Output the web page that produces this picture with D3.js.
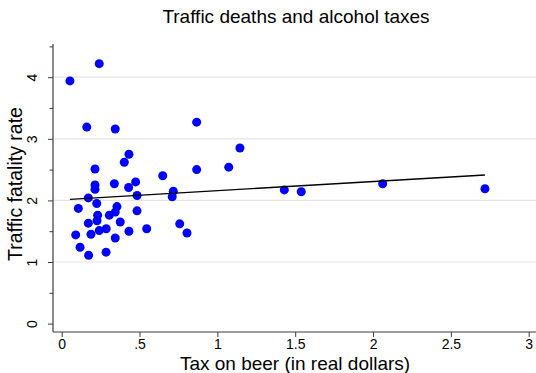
<!DOCTYPE html>
<html>
<head>
<meta charset="utf-8">
<script src="https://cdn.jsdelivr.net/npm/d3@7"></script>
<style>
  body { margin: 0; background: #fff; }
  svg { display: block; font-family: "Liberation Sans", Arial, sans-serif; }
</style>
</head>
<body>
<svg width="536" height="373"></svg>
<script>
// Data (beer tax, fatality rate per state)
const beerTax = [0.053, 0.241, 0.161, 0.344, 0.867, 1.145, 0.432, 0.402, 0.214, 0.867,
    1.073, 0.649, 0.338, 0.475, 0.214, 0.214, 0.430, 0.484, 0.717, 0.710,
    0.171, 0.225, 0.107, 0.355, 0.484, 0.231, 0.306, 0.344, 0.171, 0.227,
    0.376, 0.758, 0.090, 0.188, 0.241, 0.286, 0.432, 0.546, 0.805, 0.344,
    0.118, 0.173, 0.285, 1.430, 1.539, 2.062, 2.719];
const fatalityRate = [3.94, 4.22, 3.19, 3.16, 3.27, 2.85, 2.75, 2.62, 2.51, 2.50,
    2.54, 2.40, 2.27, 2.30, 2.25, 2.18, 2.21, 2.08, 2.15, 2.06,
    2.04, 1.95, 1.87, 1.90, 1.83, 1.76, 1.76, 1.81, 1.63, 1.67,
    1.65, 1.62, 1.44, 1.45, 1.51, 1.54, 1.50, 1.54, 1.47, 1.39,
    1.24, 1.11, 1.16, 2.17, 2.14, 2.27, 2.19];

// fitted line
const fitIntercept = 2.01;
const fitSlope = 0.148;

const xTicks = [0, 0.5, 1, 1.5, 2, 2.5, 3];
const xTickLabels = ["0", ".5", "1", "1.5", "2", "2.5", "3"];
const yTicks = [0, 1, 2, 3, 4];
const yMinorTicks = [0.5, 1.5, 2.5, 3.5, 4.5];
const yGrid = [1, 2, 3, 4];

const svg = d3.select("svg"),
    width = +svg.attr("width"),
    height = +svg.attr("height");

const plotLeft = 53, plotRight = 536, plotBottom = 332, plotTop = 44;

const x = d3.scaleLinear().domain([0, 3]).range([61.7, 528.7]);
const y = d3.scaleLinear().domain([0, 4]).range([323.6, 77.2]);

const axisColor = "#3c3c3c";

// title
svg.append("text")
    .attr("x", 296).attr("y", 23)
    .attr("text-anchor", "middle")
    .style("font-size", "19px")
    .attr("fill", "#000")
    .text("Traffic deaths and alcohol taxes");

// gridlines
svg.append("g")
    .selectAll("line")
    .data(yGrid)
    .join("line")
      .attr("x1", plotLeft + 1).attr("x2", plotRight)
      .attr("y1", d => y(d)).attr("y2", d => y(d))
      .attr("stroke", "#e6e6e6")
      .attr("stroke-width", 1.2);

// x axis
const gx = svg.append("g")
    .attr("transform", `translate(0,${plotBottom})`)
    .call(d3.axisBottom(x)
        .tickValues(xTicks)
        .tickFormat((d, i) => xTickLabels[i])
        .tickSize(5)
        .tickPadding(2));
gx.select(".domain").remove();
gx.selectAll(".tick line").attr("stroke", axisColor);
gx.selectAll(".tick text")
    .style("font-size", "14px")
    .attr("fill", "#000")
    .attr("font-family", null);

// y axis
const gy = svg.append("g")
    .attr("transform", `translate(${plotLeft},0)`)
    .call(d3.axisLeft(y)
        .tickValues(yTicks)
        .tickFormat(d3.format("d"))
        .tickSize(5));
gy.select(".domain").remove();
gy.selectAll(".tick line").attr("stroke", axisColor);
gy.selectAll(".tick text")
    .style("font-size", "14px")
    .attr("fill", "#000")
    .attr("font-family", null)
    .attr("x", null).attr("dy", null)
    .attr("text-anchor", "middle")
    .attr("transform", "translate(-16,0) rotate(-90)");

// minor ticks
svg.append("g")
    .attr("transform", `translate(${plotLeft},0)`)
    .call(d3.axisLeft(y).tickValues(yMinorTicks).tickSize(3.5).tickFormat(""))
    .call(g => g.select(".domain").remove())
    .call(g => g.selectAll(".tick line").attr("stroke", axisColor));

// axis lines
svg.append("line")
    .attr("x1", plotLeft).attr("x2", plotLeft)
    .attr("y1", plotTop).attr("y2", plotBottom)
    .attr("stroke", axisColor).attr("stroke-width", 1.2);
svg.append("line")
    .attr("x1", plotLeft).attr("x2", plotRight)
    .attr("y1", plotBottom).attr("y2", plotBottom)
    .attr("stroke", axisColor).attr("stroke-width", 1.2);

// axis titles
svg.append("text")
    .attr("x", 295).attr("y", 370)
    .attr("text-anchor", "middle")
    .style("font-size", "19px")
    .text("Tax on beer (in real dollars)");

svg.append("text")
    .attr("transform", "translate(22,184) rotate(-90)")
    .attr("text-anchor", "middle")
    .style("font-size", "19.5px")
    .text("Traffic fatality rate");

// points
const points = beerTax.map((d, i) => ({tax: d, rate: fatalityRate[i]}));

svg.append("g")
    .selectAll("circle")
    .data(points)
    .join("circle")
      .attr("cx", d => x(d.tax))
      .attr("cy", d => y(d.rate))
      .attr("r", 4.5)
      .attr("fill", "#0000ff");

// fitted values line
const xExtent = d3.extent(beerTax);
svg.append("path")
    .datum(xExtent)
    .attr("d", d3.line()
        .x(d => x(d))
        .y(d => y(fitIntercept + fitSlope * d)))
    .attr("fill", "none")
    .attr("stroke", "#000")
    .attr("stroke-width", 1.3);
</script>
</body>
</html>
